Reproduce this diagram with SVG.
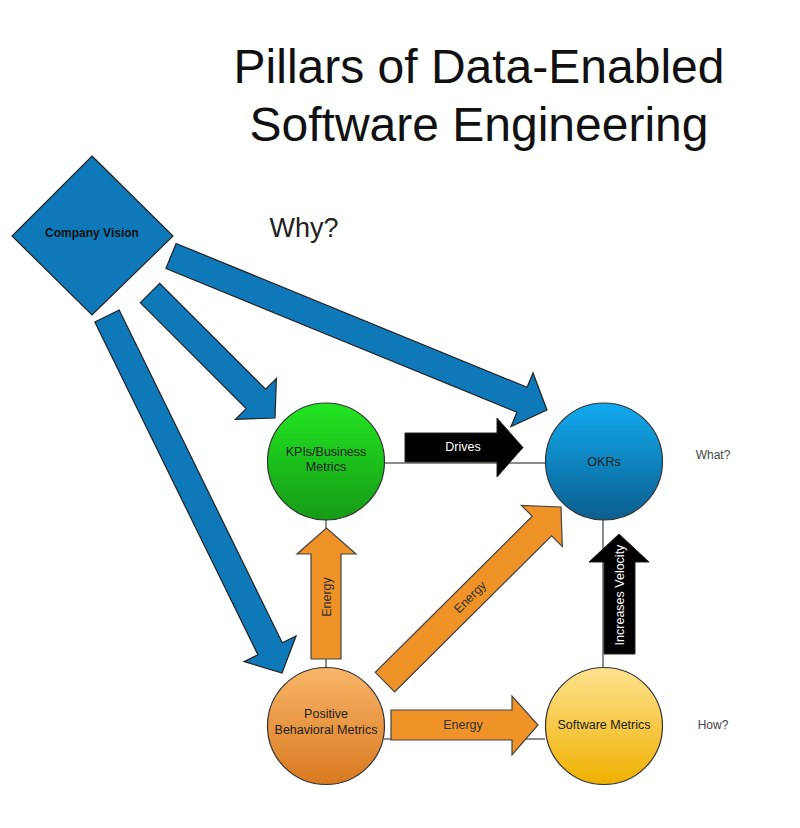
<svg xmlns="http://www.w3.org/2000/svg" width="800" height="828" viewBox="0 0 800 828">
<defs>
<linearGradient id="gGreen" x1="0" y1="0" x2="0" y2="1"><stop offset="0" stop-color="#22e622"/><stop offset="1" stop-color="#169a16"/></linearGradient>
<linearGradient id="gBlue" x1="0" y1="0" x2="0" y2="1"><stop offset="0" stop-color="#12aaf0"/><stop offset="1" stop-color="#0b5e8e"/></linearGradient>
<linearGradient id="gOrange" x1="0" y1="0" x2="0" y2="1"><stop offset="0" stop-color="#f9b569"/><stop offset="1" stop-color="#d8791f"/></linearGradient>
<linearGradient id="gYellow" x1="0" y1="0" x2="0" y2="1"><stop offset="0" stop-color="#fde28f"/><stop offset="1" stop-color="#f0b000"/></linearGradient>
<style>
text{font-family:"Liberation Sans",Arial,sans-serif;text-anchor:middle}
.node{stroke:#333;stroke-width:1.2}
.blue{fill:#0f78b9;stroke:#222;stroke-width:1.2}
.orange{fill:#ef9227;stroke:#444;stroke-width:1.2}
.black{fill:#000;stroke:#222;stroke-width:1}
.conn{stroke:#666;stroke-width:1.5;fill:none}
.lbl{font-size:12.5px;fill:#222}
.side{font-size:12px;fill:#444}
.wt{font-size:12.5px;fill:#fff}
.ot{font-size:12.5px;fill:#333}
</style>
</defs>
<rect width="800" height="828" fill="#fff"/>
<g id="title">
<text x="479" y="83" font-size="48" fill="#111">Pillars of Data-Enabled</text>
<text x="479" y="141" font-size="48" fill="#111">Software Engineering</text>
</g>
<g id="why"><text x="304" y="237" font-size="27" fill="#222">Why?</text></g>
<g id="what"><text x="713" y="459" class="side">What?</text></g>
<g id="how"><text x="713" y="729" class="side">How?</text></g>
<g id="connectors">
<line class="conn" x1="385" y1="463" x2="545" y2="463"/>
<line class="conn" x1="603" y1="520" x2="603" y2="667"/>
<line class="conn" x1="326" y1="520" x2="326" y2="667"/>
<line class="conn" x1="384" y1="739" x2="545" y2="739"/>
<polygon class="blue" points="140.3,302.7 246.2,408.6 235.4,419.4 275,418 276.4,378.4 265.6,389.2 159.7,283.3"/>
<polygon class="blue" points="165.9,268.5 516.9,412.3 511,426.6 547,410 533,373 527.1,387.3 176.1,243.5"/>
<polygon class="blue" points="94.8,322 257.9,654.8 244.1,661.6 282,673 296.1,636 282.3,642.8 119.2,310"/>
<g id="drives">
<polygon class="black" points="405,433 497,433 497,418 523,447.5 497,477 497,462 405,462"/>
<text x="463" y="451" class="wt" font-size="12">Drives</text>
</g>
<g id="velocity">
<polygon class="black" points="604,654 604,562 589,562 619,534 649,562 635,562 635,654"/>
<text class="wt" transform="translate(624,595) rotate(-90)">Increases Velocity</text>
</g>
<g id="energy-up">
<polygon class="orange" points="311,659 311,554 297,554 326.5,528 356,554 341,554 341,659"/>
<text class="ot" transform="translate(330.5,597) rotate(-90)">Energy</text>
</g>
<g id="energy-diag">
<polygon class="orange" points="394.7,691.8 551.6,535.8 562.3,546.6 561,507 521.4,505.4 532.2,516.3 375.3,672.3"/>
<text class="ot" transform="translate(473,600) rotate(-45)">Energy</text>
</g>
<g id="energy-right">
<polygon class="orange" points="391,710 512,710 512,696 538,725 512,755 512,740 391,740"/>
<text x="463" y="729" class="ot">Energy</text>
</g>
</g>
<g id="company-vision">
<polygon points="92,156 173,236 92,315 12,236" class="blue"/>
<text x="92" y="237" font-size="12" font-weight="bold" fill="#111">Company Vision</text>
</g>
<g id="kpis">
<circle cx="326" cy="461.5" r="58.5" fill="url(#gGreen)" class="node"/>
<text x="326" y="456" class="lbl">KPIs/Business</text>
<text x="326" y="471" class="lbl">Metrics</text>
</g>
<g id="okrs">
<circle cx="604" cy="461.5" r="58.5" fill="url(#gBlue)" class="node"/>
<text x="604" y="466" class="lbl">OKRs</text>
</g>
<g id="behavioral">
<circle cx="326" cy="726" r="58.5" fill="url(#gOrange)" class="node"/>
<text x="326" y="718" class="lbl">Positive</text>
<text x="326" y="734" class="lbl">Behavioral Metrics</text>
</g>
<g id="software">
<circle cx="604" cy="726" r="58.5" fill="url(#gYellow)" class="node"/>
<text x="604" y="729" class="lbl">Software Metrics</text>
</g>
</svg>
